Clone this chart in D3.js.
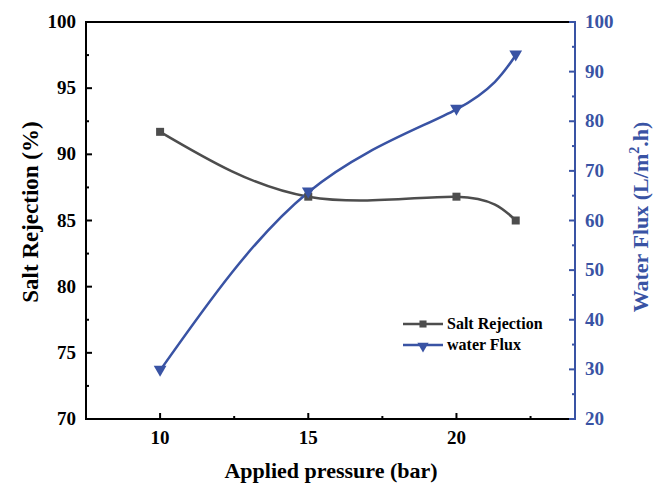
<!DOCTYPE html>
<html>
<head>
<meta charset="utf-8">
<script src="https://cdn.jsdelivr.net/npm/d3@7"></script>
<style>
  body { margin: 0; background: #fff; }
  text { font-family: "Liberation Serif", "Times New Roman", serif; font-weight: bold; }
</style>
</head>
<body>
<svg id="chart" width="662" height="486"></svg>
<script>
// data
var pressure = [10, 15, 20, 22];
var saltRejection = [91.7, 86.8, 86.8, 85.0];
var waterFlux = [29.8, 65.7, 82.4, 93.3];
var xTicks = [10, 15, 20];
var leftTicks = [70, 75, 80, 85, 90, 95, 100];
var rightTicks = [20, 30, 40, 50, 60, 70, 80, 90, 100];

var grey = "#4d4d4d";
var blue = "#3953a4";

var svg = d3.select("#chart");
var plotL = 86, plotR = 575, plotT = 22, plotB = 419;

var x = d3.scaleLinear().domain([7.5, 24]).range([plotL, plotR]);
var yL = d3.scaleLinear().domain([70, 100]).range([plotB, plotT]);
var yR = d3.scaleLinear().domain([20, 100]).range([plotB, plotT]);

// frame: top line
svg.append("line")
  .attr("x1", plotL).attr("x2", plotR).attr("y1", plotT).attr("y2", plotT)
  .attr("stroke", "#000").attr("stroke-width", 2);

// bottom axis
var gx = svg.append("g").attr("transform", "translate(0," + plotB + ")");
gx.append("line").attr("x1", plotL).attr("x2", plotR)
  .attr("stroke", "#000").attr("stroke-width", 2);
gx.selectAll(".maj").data(xTicks).enter().append("line")
  .attr("x1", d => x(d)).attr("x2", d => x(d)).attr("y1", 0).attr("y2", -6)
  .attr("stroke", "#000").attr("stroke-width", 2);
gx.selectAll(".min").data([12.5, 17.5, 22.5]).enter().append("line")
  .attr("x1", d => x(d)).attr("x2", d => x(d)).attr("y1", 0).attr("y2", -3)
  .attr("stroke", "#000").attr("stroke-width", 2);
gx.selectAll(".lbl").data(xTicks).enter().append("text")
  .attr("x", d => x(d)).attr("y", 25).attr("text-anchor", "middle")
  .attr("font-size", 19).text(d => d);

// left axis
var gl = svg.append("g").attr("transform", "translate(" + plotL + ",0)");
gl.append("line").attr("y1", plotT - 1).attr("y2", plotB + 1)
  .attr("stroke", "#000").attr("stroke-width", 2);
gl.selectAll(".maj").data(leftTicks).enter().append("line")
  .attr("y1", d => yL(d)).attr("y2", d => yL(d)).attr("x1", 0).attr("x2", 6)
  .attr("stroke", "#000").attr("stroke-width", 2);
gl.selectAll(".min").data(d3.range(72.5, 100, 5)).enter().append("line")
  .attr("y1", d => yL(d)).attr("y2", d => yL(d)).attr("x1", 0).attr("x2", 3)
  .attr("stroke", "#000").attr("stroke-width", 2);
gl.selectAll(".lbl").data(leftTicks).enter().append("text")
  .attr("x", -10).attr("y", d => yL(d) + 6).attr("text-anchor", "end")
  .attr("font-size", 19).text(d => d);

// right axis
var gr = svg.append("g").attr("transform", "translate(" + plotR + ",0)");
gr.append("line").attr("y1", plotT - 1).attr("y2", plotB + 1)
  .attr("stroke", blue).attr("stroke-width", 2);
gr.selectAll(".maj").data(rightTicks).enter().append("line")
  .attr("y1", d => yR(d)).attr("y2", d => yR(d)).attr("x1", 0).attr("x2", -6)
  .attr("stroke", blue).attr("stroke-width", 2);
gr.selectAll(".min").data(d3.range(25, 100, 10)).enter().append("line")
  .attr("y1", d => yR(d)).attr("y2", d => yR(d)).attr("x1", 0).attr("x2", -3)
  .attr("stroke", blue).attr("stroke-width", 2);
gr.selectAll(".lbl").data(rightTicks).enter().append("text")
  .attr("x", 10).attr("y", d => yR(d) + 6).attr("text-anchor", "start")
  .attr("fill", blue).attr("font-size", 19).text(d => d);

// axis titles
svg.append("text").attr("x", 331).attr("y", 478).attr("text-anchor", "middle")
  .attr("font-size", 22).text("Applied pressure (bar)");
svg.append("text").attr("transform", "translate(38,212) rotate(-90)")
  .attr("text-anchor", "middle").attr("font-size", 23).text("Salt Rejection (%)");
var rt = svg.append("text").attr("transform", "translate(648,217) rotate(-90)")
  .attr("text-anchor", "middle").attr("font-size", 22).attr("fill", blue);
rt.append("tspan").text("Water Flux (L/m");
rt.append("tspan").attr("font-size", 14).attr("dy", -9).text("2");
rt.append("tspan").attr("dy", 9).text(".h)");

// series
var salt = pressure.map((p, i) => [p, saltRejection[i]]);
var flux = pressure.map((p, i) => [p, waterFlux[i]]);

svg.append("path").datum(salt)
  .attr("d", d3.line().x(d => x(d[0])).y(d => yL(d[1])).curve(d3.curveNatural))
  .attr("fill", "none").attr("stroke", grey).attr("stroke-width", 2.5);
svg.append("path").datum(flux)
  .attr("d", d3.line().x(d => x(d[0])).y(d => yR(d[1])).curve(d3.curveNatural))
  .attr("fill", "none").attr("stroke", blue).attr("stroke-width", 2.5);

var sq = d3.symbol().type(d3.symbolSquare).size(64);
var tri = d3.symbol().type(d3.symbolTriangle).size(70);

svg.selectAll(".sq").data(salt).enter().append("path")
  .attr("d", sq).attr("fill", grey)
  .attr("transform", d => "translate(" + x(d[0]) + "," + yL(d[1]) + ")");
svg.selectAll(".tri").data(flux).enter().append("path")
  .attr("d", tri).attr("fill", blue)
  .attr("transform", d => "translate(" + x(d[0]) + "," + (yR(d[1]) - 1) + ") rotate(180)");

// legend
var lg = svg.append("g").attr("transform", "translate(403,324)");
lg.append("line").attr("x1", 0).attr("x2", 40).attr("stroke", grey).attr("stroke-width", 2.5);
lg.append("path").attr("d", d3.symbol().type(d3.symbolSquare).size(50)).attr("fill", grey)
  .attr("transform", "translate(20,0)");
lg.append("text").attr("x", 44).attr("y", 5).attr("font-size", 16).text("Salt Rejection");
lg.append("line").attr("x1", 0).attr("x2", 40).attr("y1", 21).attr("y2", 21)
  .attr("stroke", blue).attr("stroke-width", 2.5);
lg.append("path").attr("d", d3.symbol().type(d3.symbolTriangle).size(55)).attr("fill", blue)
  .attr("transform", "translate(20,22) rotate(180)");
lg.append("text").attr("x", 44).attr("y", 26).attr("font-size", 16).text("water Flux");
</script>
</body>
</html>
